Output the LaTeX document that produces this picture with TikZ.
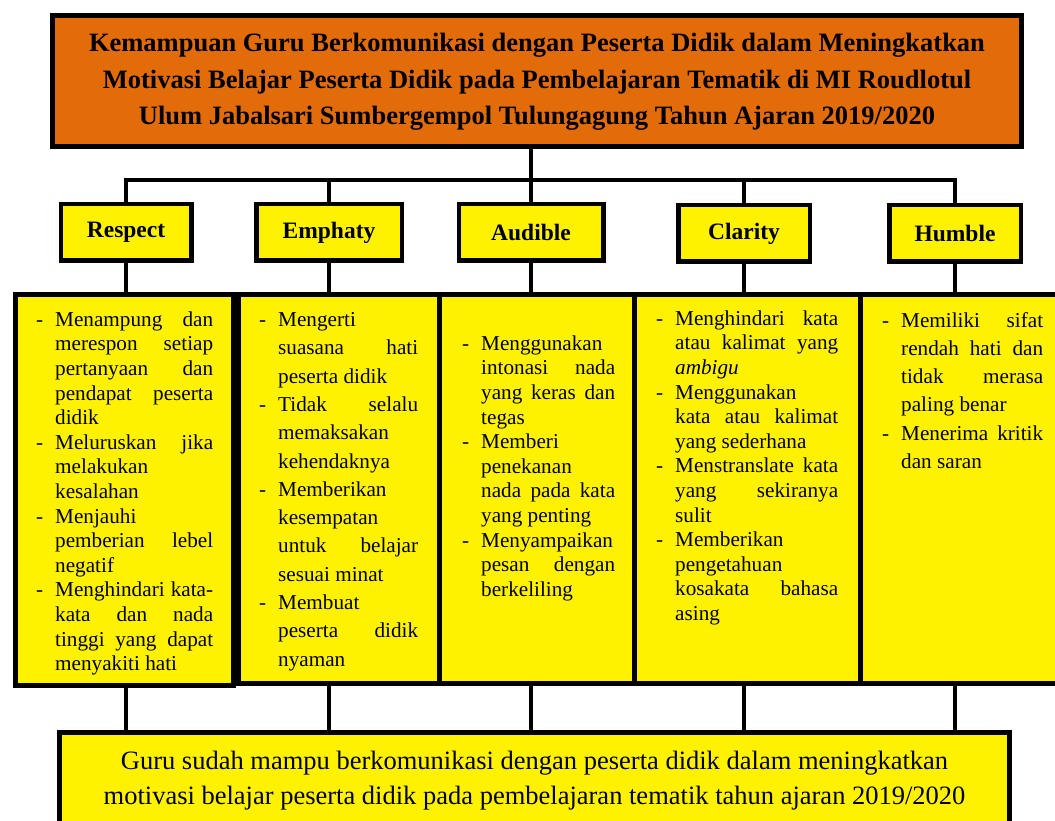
\documentclass[tikz,border=0pt]{standalone}
\usepackage{fontspec}
\setmainfont{Liberation Serif}
\usepackage{tikz}

\definecolor{titleorange}{RGB}{227,108,10}

\newlength\hangw
\setlength\hangw{19pt}
% butir daftar dengan tanda "-"
\newcommand\dashitem{\par\noindent\hangindent=\hangw\hangafter=1\makebox[\hangw][l]{-}\ignorespaces}
\newcommand\listsetup{\tolerance=10000\relax\hbadness=10000\relax\hyphenpenalty=10000\relax}

\begin{document}
\begin{tikzpicture}[x=1pt, y=-1pt,
        titlebox/.style={draw, line width=5pt, fill=titleorange, inner sep=0pt, outer sep=0pt, minimum width=969pt, minimum height=131pt, font=\fontsize{26.5}{36.5}\selectfont\bfseries},
        catbox/.style={draw, line width=4.5pt, fill=yellow, inner sep=0pt, outer sep=0pt, minimum height=56.5pt, font=\fontsize{23.5}{28}\selectfont\bfseries},
        listbox/.style={draw, line width=5pt, fill=yellow, inner sep=0pt, outer sep=0pt, anchor=north west},
        listtext/.style={inner sep=0pt, anchor=north west, align=justify, font=\fontsize{21.2}{24.6}\selectfont\listsetup},
        widetext/.style={listtext, font=\fontsize{21.2}{28.3}\selectfont\listsetup},
        resultbox/.style={draw, line width=5pt, fill=yellow, inner sep=0pt, outer sep=0pt, minimum width=950pt, minimum height=94pt, font=\fontsize{26.5}{35}\selectfont},
        link/.style={line width=4pt}
    ]
    \useasboundingbox (0,0) rectangle (1055,821);

    % Judul
    \node[titlebox] (title) at (537,81) {\raisebox{-7pt}{\begin{tabular}{@{}c@{}}
        Kemampuan Guru Berkomunikasi dengan Peserta Didik dalam Meningkatkan\\
        Motivasi Belajar Peserta Didik pada Pembelajaran Tematik di MI Roudlotul\\
        Ulum Jabalsari Sumbergempol Tulungagung Tahun Ajaran 2019/2020\end{tabular}}};

    % Aspek komunikasi
    \node[catbox, minimum width=130.5pt] (respect) at (126,232.5) {Respect};
    \node[catbox, minimum width=145.5pt] (emphaty) at (329,232.5) {Emphaty};
    \node[catbox, minimum width=144.5pt] (audible) at (531,232.5) {Audible};
    \node[catbox, minimum width=131.5pt] (clarity) at (744,233.5) {Clarity};
    \node[catbox, minimum width=131.5pt] (humble) at (955,233.5) {Humble};

    % Kotak indikator
    \node[listbox, minimum width=218pt, minimum height=391pt] (respectlist) at (15.5,294.5) {};
    \node[listbox, minimum width=201pt, minimum height=389pt] (emphatylist) at (238,294.5) {};
    \node[listbox, minimum width=195pt, minimum height=389pt] (audiblelist) at (439,294.5) {};
    \node[listbox, minimum width=226pt, minimum height=389pt] (claritylist) at (634,294.5) {};
    \node[listbox, minimum width=220pt, minimum height=389pt] (humblelist) at (860,294.5) {};

    % Isi indikator
    \node[listtext, text width=177pt] (respecttext) at (36,301.5) {%
        \dashitem Menampung dan\linebreak merespon setiap\linebreak pertanyaan dan\linebreak pendapat peserta\linebreak didik
        \dashitem Meluruskan jika\linebreak melakukan\linebreak kesalahan
        \dashitem Menjauhi\linebreak pemberian lebel\linebreak negatif
        \dashitem Menghindari kata-\linebreak kata dan nada\linebreak tinggi yang dapat\linebreak menyakiti hati\par};
    \node[widetext, text width=159pt] (emphatytext) at (259,298) {%
        \dashitem Mengerti\linebreak suasana hati\linebreak peserta didik
        \dashitem Tidak selalu\linebreak memaksakan\linebreak kehendaknya
        \dashitem Memberikan\linebreak kesempatan\linebreak untuk belajar\linebreak sesuai minat
        \dashitem Membuat\linebreak peserta didik\linebreak nyaman\par};
    \node[listtext, text width=153pt] (audibletext) at (462,325.5) {%
        \dashitem Menggunakan\linebreak intonasi nada\linebreak yang keras dan\linebreak tegas
        \dashitem Memberi\linebreak penekanan\linebreak nada pada kata\linebreak yang penting
        \dashitem Menyampaikan\linebreak pesan dengan\linebreak berkeliling\par};
    \node[listtext, text width=182pt] (claritytext) at (656,300.5) {%
        \dashitem Menghindari kata\linebreak atau kalimat yang\linebreak \textit{ambigu}
        \dashitem Menggunakan\linebreak kata atau kalimat\linebreak yang sederhana
        \dashitem Menstranslate kata\linebreak yang sekiranya\linebreak sulit
        \dashitem Memberikan\linebreak pengetahuan\linebreak kosakata bahasa\linebreak asing\par};
    \node[widetext, text width=161pt] (humbletext) at (882,298.5) {%
        \dashitem Memiliki sifat\linebreak rendah hati dan\linebreak tidak merasa\linebreak paling benar
        \dashitem Menerima kritik\linebreak dan saran\par};

    % Kesimpulan
    \node[resultbox] (result) at (534.5,779.5) {\raisebox{-7pt}{\begin{tabular}{@{}c@{}}
        Guru sudah mampu berkomunikasi dengan peserta didik dalam meningkatkan\\
        motivasi belajar peserta didik pada pembelajaran tematik tahun ajaran 2019/2020\end{tabular}}};

    % Garis penghubung atas
    \coordinate (bus) at (531,180);
    \draw[link] (audible |- title.south) -- (audible.north);
    \draw[link] (respect.north) |- (bus) -| (humble.north);
    \draw[link] (emphaty.north) -- (emphaty |- bus);
    \draw[link] (clarity.north) -- (clarity |- bus);

    % Garis ke kotak indikator
    \draw[link] (respect.south) -- (respect |- respectlist.north);
    \draw[link] (emphaty.south) -- (emphaty |- emphatylist.north);
    \draw[link] (audible.south) -- (audible |- audiblelist.north);
    \draw[link] (clarity.south) -- (clarity |- claritylist.north);
    \draw[link] (humble.south) -- (humble |- humblelist.north);

    % Garis ke kesimpulan
    \draw[link] (respect |- respectlist.south) -- (respect |- result.north);
    \draw[link] (emphaty |- emphatylist.south) -- (emphaty |- result.north);
    \draw[link] (audible |- audiblelist.south) -- (audible |- result.north);
    \draw[link] (clarity |- claritylist.south) -- (clarity |- result.north);
    \draw[link] (humble |- humblelist.south) -- (humble |- result.north);
\end{tikzpicture}
\end{document}
